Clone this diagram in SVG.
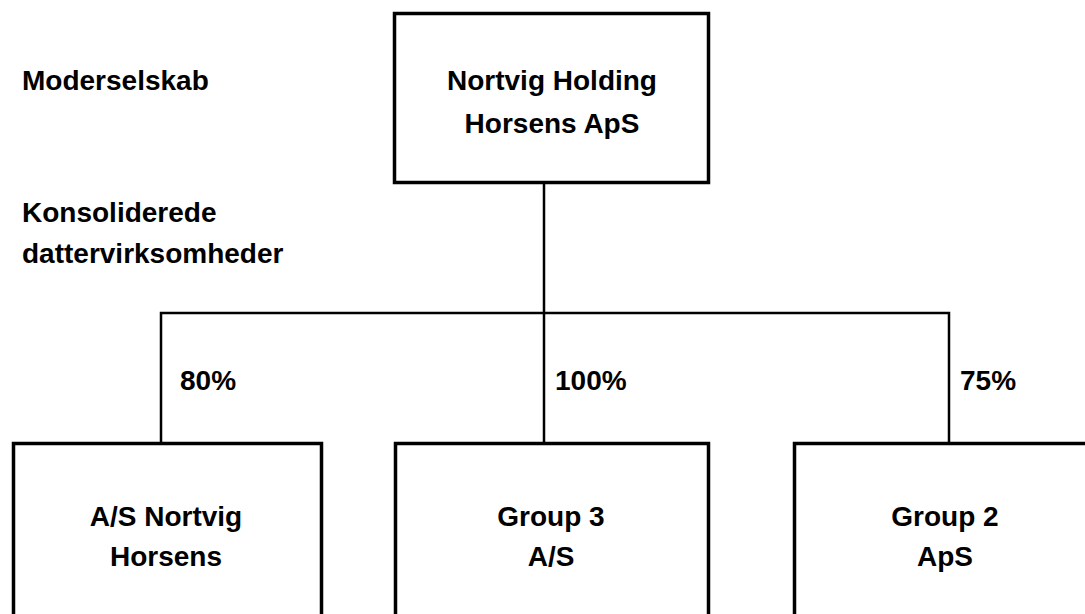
<svg xmlns="http://www.w3.org/2000/svg" width="1085" height="614" viewBox="0 0 1085 614">
<style>
text{font-family:"Liberation Sans",Arial,sans-serif;font-weight:bold;font-size:28px;fill:#000}
.c{text-anchor:middle}
.box{fill:#fff;stroke:#000;stroke-width:3.5}
.ln{fill:none;stroke:#000;stroke-width:2.5}
</style>
<rect width="1085" height="614" fill="#fff"/>
<g id="labels">
<text x="22" y="90">Moderselskab</text>
<text x="22" y="222">Konsoliderede</text>
<text x="22" y="263">dattervirksomheder</text>
</g>
<g id="connectors">
<path class="ln" d="M544 183V443M161 443V313H949V443"/>
<text x="180" y="390">80%</text>
<text x="555" y="390">100%</text>
<text x="960" y="390">75%</text>
</g>
<g id="parent">
<rect class="box" x="394.5" y="13.5" width="314" height="169"/>
<text class="c" x="552" y="90">Nortvig Holding</text>
<text class="c" x="552" y="133">Horsens ApS</text>
</g>
<g id="sub1">
<rect class="box" x="13.5" y="443.5" width="308" height="200"/>
<text class="c" x="166" y="526">A/S Nortvig</text>
<text class="c" x="166" y="566">Horsens</text>
</g>
<g id="sub2">
<rect class="box" x="395.5" y="443.5" width="313" height="200"/>
<text class="c" x="551" y="526">Group 3</text>
<text class="c" x="551" y="566">A/S</text>
</g>
<g id="sub3">
<rect class="box" x="794.5" y="443.5" width="310" height="200"/>
<text class="c" x="945" y="526">Group 2</text>
<text class="c" x="945" y="566">ApS</text>
</g>
</svg>
